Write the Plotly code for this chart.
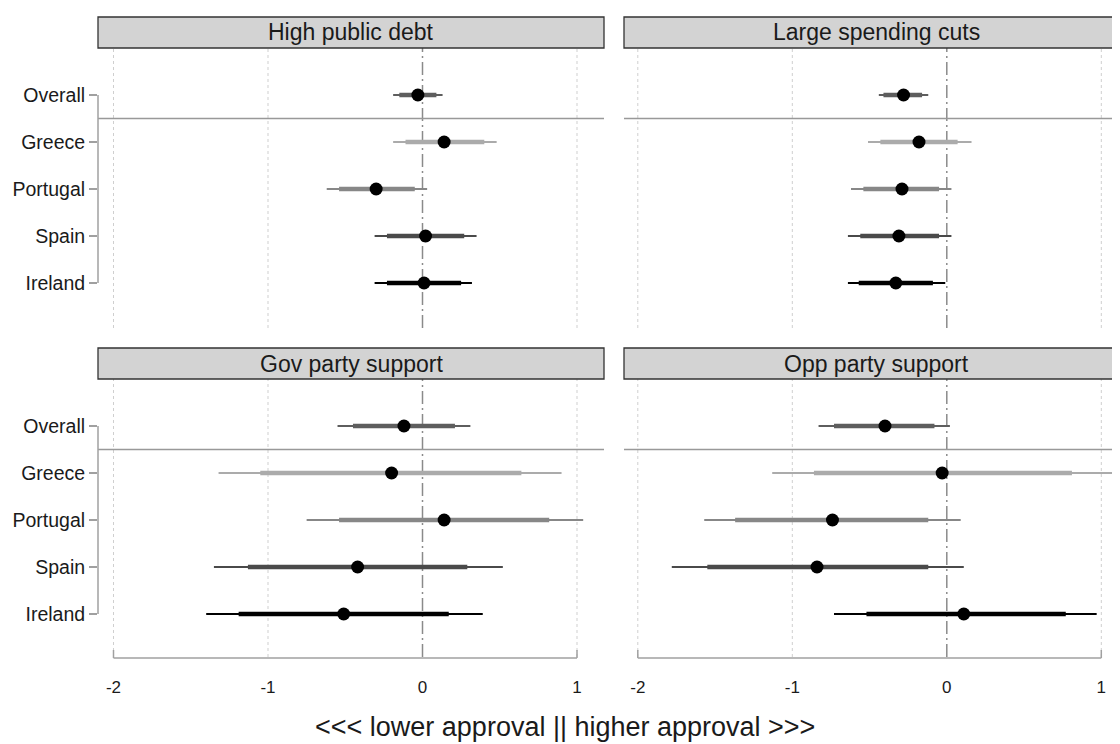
import plotly.graph_objects as go

OFF = 8  # page body margin in the browser
W, H = 1120 - OFF, 744 - OFF

panels = ["High public debt", "Large spending cuts", "Gov party support", "Opp party support"]
groups = ["Overall", "Greece", "Portugal", "Spain", "Ireland"]
group_colors = ["#5e5e5e", "#ababab", "#878787", "#4a4a4a", "#000000"]
x_ticks = [-2, -1, 0, 1]
x_title = "<<< lower approval || higher approval >>>"

# High public debt
debt_est = [-0.03, 0.14, -0.30, 0.02, 0.01]
debt_lo95 = [-0.19, -0.19, -0.62, -0.31, -0.31]
debt_hi95 = [0.13, 0.48, 0.03, 0.35, 0.32]
debt_lo90 = [-0.15, -0.11, -0.54, -0.23, -0.23]
debt_hi90 = [0.09, 0.40, -0.05, 0.27, 0.25]

# Large spending cuts
cuts_est = [-0.28, -0.18, -0.29, -0.31, -0.33]
cuts_lo95 = [-0.44, -0.51, -0.62, -0.64, -0.64]
cuts_hi95 = [-0.12, 0.16, 0.03, 0.03, -0.01]
cuts_lo90 = [-0.41, -0.43, -0.54, -0.56, -0.57]
cuts_hi90 = [-0.16, 0.07, -0.05, -0.05, -0.09]

# Gov party support
gov_est = [-0.12, -0.20, 0.14, -0.42, -0.51]
gov_lo95 = [-0.55, -1.32, -0.75, -1.35, -1.40]
gov_hi95 = [0.31, 0.90, 1.04, 0.52, 0.39]
gov_lo90 = [-0.45, -1.05, -0.54, -1.13, -1.19]
gov_hi90 = [0.21, 0.64, 0.82, 0.29, 0.17]

# Opp party support
opp_est = [-0.40, -0.03, -0.74, -0.84, 0.11]
opp_lo95 = [-0.83, -1.13, -1.57, -1.78, -0.73]
opp_hi95 = [0.02, 1.08, 0.09, 0.11, 0.97]
opp_lo90 = [-0.73, -0.86, -1.37, -1.55, -0.52]
opp_hi90 = [-0.08, 0.81, -0.12, -0.12, 0.77]

panel_data = [
    (debt_est, debt_lo95, debt_hi95, debt_lo90, debt_hi90),
    (cuts_est, cuts_lo95, cuts_hi95, cuts_lo90, cuts_hi90),
    (gov_est, gov_lo95, gov_hi95, gov_lo90, gov_hi90),
    (opp_est, opp_lo95, opp_hi95, opp_lo90, opp_hi90),
]

FONT = "Liberation Sans, Arial, sans-serif"

# layout geometry in page pixels
xl = (98, 604)
xr = (624, 1120)
px_per_unit = 154.5
zero_l = 422.5
zero_r = 946.8
top_px = (48, 328)
bot_px = (379, 657)
row_px = 47.0


def pxx(p):
    return (p - OFF) / W


def pxy(p):
    return 1 - (p - OFF) / H


fig = go.Figure()

axis_ids = ["", "2", "3", "4"]
for k in range(4):
    est, lo95, hi95, lo90, hi90 = panel_data[k]
    ax = axis_ids[k]
    for i, g in enumerate(groups):
        yv = i + 1
        col = group_colors[i]
        fig.add_trace(go.Scatter(
            x=[lo95[i], hi95[i]], y=[yv, yv], mode="lines",
            line=dict(color=col, width=2), xaxis="x" + ax, yaxis="y" + ax,
            showlegend=False, hoverinfo="skip"))
        fig.add_trace(go.Scatter(
            x=[lo90[i], hi90[i]], y=[yv, yv], mode="lines",
            line=dict(color=col, width=4.5), xaxis="x" + ax, yaxis="y" + ax,
            showlegend=False, hoverinfo="skip"))
        fig.add_trace(go.Scatter(
            x=[est[i]], y=[yv], mode="markers",
            marker=dict(color="black", size=13), xaxis="x" + ax, yaxis="y" + ax,
            showlegend=False, name=g))

layout = dict(
    width=W, height=H,
    margin=dict(l=0, r=0, t=0, b=0),
    paper_bgcolor="white", plot_bgcolor="white",
    font=dict(family=FONT, color="#1a1a1a"),
    showlegend=False,
)

shapes = []
annotations = []

for k in range(4):
    ax = axis_ids[k]
    left = k % 2 == 0
    top = k < 2
    xpx = xl if left else xr
    zero = zero_l if left else zero_r
    ypx = top_px if top else bot_px
    xrange = [(xpx[0] - zero) / px_per_unit, (xpx[1] - zero) / px_per_unit]
    yrange = [(ypx[1] - ypx[0]) / row_px, 0]
    xa = dict(
        domain=[pxx(xpx[0]), pxx(xpx[1])], range=xrange, anchor="y" + ax,
        showgrid=False, zeroline=False, showline=False,
        tickvals=x_ticks, ticktext=[str(t) for t in x_ticks],
        showticklabels=not top, ticks="",
        tickfont=dict(size=17, color="#1a1a1a", family=FONT),
        ticklabelstandoff=18,
    )
    ya = dict(
        domain=[pxy(ypx[1]), pxy(ypx[0])], range=yrange, anchor="x" + ax,
        showgrid=False, zeroline=False, showline=False,
        tickvals=list(range(1, 6)), ticktext=groups,
        showticklabels=left, ticks="outside" if left else "", ticklen=8,
        tickcolor="#a0a0a0", tickwidth=1.5,
        tickfont=dict(size=19.5, color="#1a1a1a", family=FONT),
    )
    layout["xaxis" + ax] = xa
    layout["yaxis" + ax] = ya

    xr_ref = "x" + ax
    yr_ref = "y" + ax
    # dotted gridlines
    for t in x_ticks:
        if t == 0:
            continue
        shapes.append(dict(type="line", xref=xr_ref, yref=yr_ref + " domain",
                           x0=t, x1=t, y0=0, y1=1,
                           line=dict(color="#cfcfcf", width=1, dash="dot"), layer="below"))
    # zero reference line
    shapes.append(dict(type="line", xref=xr_ref, yref=yr_ref + " domain",
                       x0=0, x1=0, y0=0, y1=1,
                       line=dict(color="#8a8a8a", width=1.5, dash="13px,4px,2px,4px"), layer="below"))
    # separator between Overall and countries
    shapes.append(dict(type="line", xref=xr_ref + " domain", yref=yr_ref,
                       x0=0, x1=1.02 if not left else 1, y0=1.5, y1=1.5,
                       line=dict(color="#999999", width=1.5), layer="below"))
    # y bracket line
    if left:
        shapes.append(dict(type="line", xref="paper", yref=yr_ref,
                           x0=pxx(xpx[0]), x1=pxx(xpx[0]), y0=1, y1=5,
                           line=dict(color="#a0a0a0", width=1.5)))
    # x bracket for bottom panels
    if not top:
        yb = pxy(ypx[1] + 1)
        shapes.append(dict(type="line", xref=xr_ref, yref="paper",
                           x0=x_ticks[0], x1=x_ticks[-1], y0=yb, y1=yb,
                           line=dict(color="#a0a0a0", width=1.5)))
        for t in (x_ticks[0], x_ticks[-1]):
            shapes.append(dict(type="line", xref=xr_ref, yref="paper",
                               x0=t, x1=t, y0=yb, y1=pxy(ypx[1] - 7),
                               line=dict(color="#a0a0a0", width=1.5)))
    # strip
    s_top = ypx[0] - 31
    x1_strip = pxx(xpx[1]) if left else 1.02
    shapes.append(dict(type="rect", xref="paper", yref="paper",
                       x0=pxx(xpx[0]), x1=x1_strip, y0=pxy(ypx[0]), y1=pxy(s_top),
                       fillcolor="#d3d3d3", line=dict(color="#333333", width=1.3)))
    annotations.append(dict(
        text=panels[k], xref="paper", yref="paper",
        x=pxx((xpx[0] + (xpx[1] if left else 1128)) / 2), y=pxy((ypx[0] + s_top) / 2),
        xanchor="center", yanchor="middle", showarrow=False,
        font=dict(size=23, color="#1a1a1a", family=FONT)))

annotations.append(dict(
    text=x_title, xref="paper", yref="paper", x=pxx(565), y=pxy(727),
    xanchor="center", yanchor="middle", showarrow=False,
    font=dict(size=27, color="#1a1a1a", family=FONT)))

layout["shapes"] = shapes
layout["annotations"] = annotations
fig.update_layout(**layout)

fig.write_html("out.html", post_script="document.documentElement.style.overflow='hidden';")
